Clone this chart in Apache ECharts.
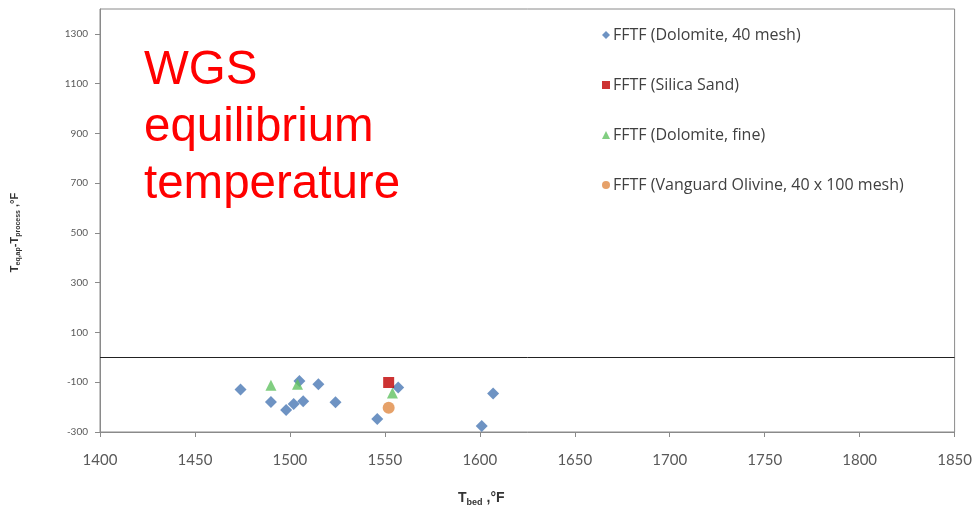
<!DOCTYPE html>
<html>
<head>
<meta charset="utf-8">
<script src="https://cdn.jsdelivr.net/npm/echarts@6/dist/echarts.min.js"></script>
<style>
  html, body { margin: 0; padding: 0; background: #ffffff; }
  #chart { width: 975px; height: 517px; }
</style>
</head>
<body>
<div id="chart"></div>
<script>
// Bed temperature (°F) and approach to WGS equilibrium (°F) per bed material
const dolomite40Bed  = [1474, 1490, 1498, 1502, 1505, 1507, 1515, 1524, 1546, 1557, 1601, 1607];
const dolomite40Diff = [-129, -179, -212, -187, -95, -176, -108, -180, -248, -121, -276, -145];

const silicaBed  = [1552];
const silicaDiff = [-101];

const dolomiteFineBed  = [1490, 1504, 1554];
const dolomiteFineDiff = [-112, -108, -143];

const olivineBed  = [1552];
const olivineDiff = [-203];

const seriesNames = [
  'FFTF (Dolomite, 40 mesh)',
  'FFTF (Silica Sand)',
  'FFTF (Dolomite, fine)',
  'FFTF (Vanguard Olivine, 40 x 100 mesh)'
];

const xTicks = { min: 1400, max: 1850, interval: 50 };
const yTicks = { min: -300, max: 1400, interval: 200 };

const pairs = (xs, ys) => xs.map((x, i) => [x, ys[i]]);
const plain = v => String(v);

const chart = echarts.init(document.getElementById('chart'), null, { renderer: 'canvas' });

const labelFont = 'Lato, "Open Sans", sans-serif';

chart.setOption({
  animation: false,
  backgroundColor: '#ffffff',
  grid: {
    left: 100, right: 20, top: 9, bottom: 85,
    show: true, borderColor: '#8a8a8a', borderWidth: 1,
    backgroundColor: 'transparent'
  },
  legend: {
    orient: 'vertical',
    left: 597, top: 22,
    itemWidth: 8, itemHeight: 8,
    itemGap: 34,
    data: [
      { name: seriesNames[0], icon: 'diamond' },
      { name: seriesNames[1], icon: 'rect' },
      { name: seriesNames[2], icon: 'triangle' },
      { name: seriesNames[3], icon: 'circle' }
    ],
    textStyle: { fontFamily: '"Open Sans", Lato, sans-serif', fontSize: 16, color: '#404040', padding: [0, 0, 0, -2] }
  },
  xAxis: {
    type: 'value',
    min: xTicks.min, max: xTicks.max, interval: xTicks.interval,
    name: 'T{sub|bed} ,°F',
    nameLocation: 'middle',
    nameGap: 58,
    nameTextStyle: {
      fontFamily: 'Arial, "Liberation Sans", sans-serif',
      fontWeight: 'bold', fontSize: 14, color: '#333333',
      padding: [0, 92, 0, 0],
      rich: {
        sub: { fontSize: 9, fontWeight: 'bold', color: '#333333', verticalAlign: 'bottom', padding: [8, 0, 0, 0] }
      }
    },
    splitLine: { show: false },
    axisLine: { onZero: false, lineStyle: { color: '#8a8a8a', width: 1 } },
    axisTick: { show: true, length: 5, lineStyle: { color: '#8a8a8a' } },
    axisLabel: { fontFamily: labelFont, fontSize: 15, color: '#595959', margin: 21, formatter: plain }
  },
  yAxis: {
    type: 'value',
    min: yTicks.min, max: yTicks.max, interval: yTicks.interval,
    name: 'T{sub|eq,ap}-T{sub|process} ,°F',
    nameLocation: 'middle',
    nameRotate: 90,
    nameGap: 78,
    nameTextStyle: {
      fontFamily: 'Arial, "Liberation Sans", sans-serif',
      fontWeight: 'bold', fontSize: 11, color: '#333333',
      padding: [0, 24, 0, 0],
      rich: {
        sub: { fontSize: 7, fontWeight: 'bold', color: '#333333', verticalAlign: 'bottom', padding: [7, 0, 0, 0] }
      }
    },
    splitLine: { show: false },
    axisLine: { onZero: false, lineStyle: { color: '#8a8a8a', width: 1 } },
    axisTick: { show: true, length: 5, lineStyle: { color: '#8a8a8a' } },
    axisLabel: { fontFamily: labelFont, fontSize: 10, color: '#595959', margin: 12, showMaxLabel: false, formatter: plain }
  },
  graphic: [
    {
      type: 'text',
      left: 144, top: 42,
      style: {
        text: 'WGS\nequilibrium\ntemperature',
        fontFamily: 'Arial, "Liberation Sans", sans-serif',
        fontSize: 47.5,
        lineHeight: 57,
        fill: '#ff0000'
      }
    }
  ],
  series: [
    {
      name: seriesNames[0], type: 'scatter', symbol: 'diamond', symbolSize: 12,
      itemStyle: { color: '#4a78b4' },
      data: pairs(dolomite40Bed, dolomite40Diff),
      z: 2,
      markLine: {
        silent: true, symbol: 'none',
        label: { show: false },
        lineStyle: { color: '#222222', width: 1, type: 'solid' },
        data: [{ yAxis: 0 }]
      }
    },
    {
      name: seriesNames[1], type: 'scatter', symbol: 'rect', symbolSize: 11,
      itemStyle: { color: '#c00000' },
      data: pairs(silicaBed, silicaDiff), z: 3
    },
    {
      name: seriesNames[2], type: 'scatter', symbol: 'triangle', symbolSize: 11,
      itemStyle: { color: '#62c262' },
      data: pairs(dolomiteFineBed, dolomiteFineDiff), z: 3
    },
    {
      name: seriesNames[3], type: 'scatter', symbol: 'circle', symbolSize: 12,
      itemStyle: { color: '#e08a44' },
      data: pairs(olivineBed, olivineDiff), z: 3
    }
  ]
});
</script>
</body>
</html>
